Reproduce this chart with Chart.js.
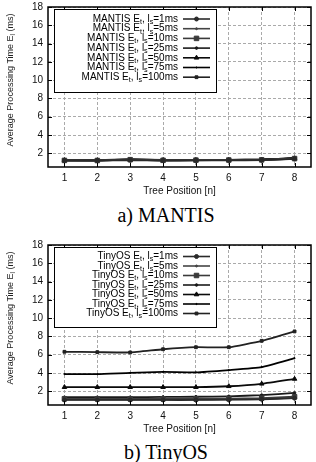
<!DOCTYPE html>
<html><head><meta charset="utf-8">
<script src="https://cdn.jsdelivr.net/npm/chart.js@4/dist/chart.umd.min.js"></script>
<style>
html,body{margin:0;padding:0;background:#fff;width:316px;height:462px;overflow:hidden;position:relative}
.cv{position:absolute;left:0;width:316px}
canvas{display:block}
.cap{position:absolute;left:16px;width:300px;text-align:center;font-family:"Liberation Serif","Times New Roman",serif;font-size:20px;color:#000;line-height:24px}
</style></head><body>
<div class="cv" style="top:-4px;height:206px"><canvas id="c1" width="316" height="206"></canvas></div>
<div class="cap" style="top:203px">a) MANTIS</div>
<div class="cv" style="top:234px;height:206px"><canvas id="c2" width="316" height="206"></canvas></div>
<div class="cap" style="top:440px">b) TinyOS</div>
<script>
// ---- data ----
const positions = ['1','2','3','4','5','6','7','8'];
const sleepIntervals = ['1ms','5ms','10ms','25ms','50ms','75ms','100ms'];
const yTicks = [2,4,6,8,10,12,14,16,18];
const xTitle = 'Tree Position [n]';

const mantis_1ms   = [1.20,1.20,1.25,1.20,1.22,1.23,1.25,1.38];
const mantis_5ms   = [1.22,1.22,1.28,1.22,1.24,1.25,1.27,1.40];
const mantis_10ms  = [1.22,1.21,1.30,1.23,1.25,1.26,1.28,1.42];
const mantis_25ms  = [1.23,1.22,1.29,1.24,1.25,1.26,1.28,1.43];
const mantis_50ms  = [1.24,1.23,1.31,1.25,1.26,1.27,1.30,1.45];
const mantis_75ms  = [1.25,1.24,1.32,1.26,1.27,1.28,1.31,1.46];
const mantis_100ms = [1.26,1.25,1.33,1.27,1.28,1.29,1.32,1.48];

const tinyos_1ms   = [1.05,1.05,1.05,1.05,1.05,1.08,1.12,1.25];
const tinyos_5ms   = [1.10,1.10,1.10,1.10,1.10,1.12,1.18,1.30];
const tinyos_10ms  = [1.18,1.18,1.18,1.18,1.18,1.20,1.25,1.40];
const tinyos_25ms  = [1.35,1.35,1.35,1.38,1.40,1.45,1.58,1.82];
const tinyos_50ms  = [2.45,2.45,2.45,2.45,2.45,2.55,2.82,3.35];
const tinyos_75ms  = [3.88,3.87,4.02,4.12,4.07,4.32,4.65,5.62];
const tinyos_100ms = [6.32,6.28,6.25,6.60,6.82,6.82,7.52,8.55];

// ---- styles ----
const styles = [
  {color:'#2a2a2a', point:'circle',   r:2},
  {color:'#444444', point:'circle',   r:1},
  {color:'#3a3a3a', point:'rect',     r:3.2},
  {color:'#1a1a1a', point:'circle',   r:1.3},
  {color:'#0a0a0a', point:'triangle', r:2.6},
  {color:'#000000', point:'circle',   r:0.6},
  {color:'#222222', point:'rect',     r:2}
];
const FONT = '"Liberation Sans", Arial, sans-serif';

function drawRich(ctx, segs, x, y, align, size){
  const sub = size*0.72;
  let total = 0;
  const widths = segs.map(s=>{ctx.font = (s.sub?sub:size)+'px '+FONT; const w = ctx.measureText(s.t).width; total += w; return w;});
  let cx = align==='right' ? x-total : align==='center' ? x-total/2 : x;
  ctx.textAlign='left'; ctx.textBaseline='middle';
  segs.forEach((s,i)=>{
    ctx.font = (s.sub?sub:size)+'px '+FONT;
    ctx.fillText(s.t, cx, s.sub? y+size*0.3 : y);
    cx += widths[i];
  });
}
function richLabel(label){
  const segs=[]; let buf='';
  for(let i=0;i<label.length;i++){
    if(label[i]==='_' && i+1<label.length){ if(buf){segs.push({t:buf});buf='';} segs.push({t:label[i+1],sub:true}); i++; }
    else buf+=label[i];
  }
  if(buf) segs.push({t:buf});
  return segs;
}
const yTitle = 'Average Processing Time E_l (ms)';

const framePlugin = {
  id:'frame',
  afterDatasetsDraw(chart, args, opts){
    const ctx = chart.ctx, a = chart.chartArea;
    const xs = chart.scales.x, ys = chart.scales.y;
    ctx.save();
    const bx = a.left+6, by = a.top+opts.legendTop, bw = 162, bh = opts.boxH;
    ctx.fillStyle='#fff'; ctx.fillRect(bx,by,bw,bh);
    ctx.strokeStyle='#000'; ctx.lineWidth=1; ctx.setLineDash([]);
    ctx.strokeRect(bx+0.5,by+0.5,bw,bh);
    chart.data.datasets.forEach((ds,i)=>{
      const y = a.top + opts.rowStart + i*opts.rowGap;
      ctx.fillStyle='#000';
      drawRich(ctx, richLabel(ds.label), a.left+130, y, 'right', 10);
      ctx.strokeStyle = ds.borderColor; ctx.lineWidth = 1.6;
      ctx.beginPath(); ctx.moveTo(a.left+135,y); ctx.lineTo(a.left+162,y); ctx.stroke();
      ctx.fillStyle = ds.borderColor; ctx.strokeStyle = ds.borderColor; ctx.lineWidth=1;
      Chart.helpers.drawPoint(ctx,{pointStyle:ds.pointStyle,radius:ds.pointRadius,rotation:0,borderWidth:1},a.left+148.5,y);
    });
    ctx.strokeStyle='#000'; ctx.lineWidth=1;
    ctx.beginPath();
    xs.ticks.forEach((t,i)=>{const px=Math.round(xs.getPixelForTick(i))+0.5;
      ctx.moveTo(px,a.bottom); ctx.lineTo(px,a.bottom-4);
      if(px>bx+bw+1 || px<bx){ctx.moveTo(px,a.top); ctx.lineTo(px,a.top+4);} else {ctx.moveTo(px,a.top); ctx.lineTo(px,a.top+2);} });
    ys.ticks.forEach(t=>{const py=Math.round(ys.getPixelForValue(t.value))+0.5;
      ctx.moveTo(a.left,py); ctx.lineTo(a.left+4,py); ctx.moveTo(a.right,py); ctx.lineTo(a.right-4,py);});
    ctx.stroke();
    ctx.lineWidth=1.5;
    ctx.strokeRect(a.left, a.top, a.right-a.left, a.bottom-a.top);
    ctx.translate(11, (a.top+a.bottom)/2-7);
    ctx.rotate(-Math.PI/2);
    ctx.fillStyle='#222';
    drawRich(ctx, richLabel(yTitle), 0, 0, 'center', 9);
    ctx.restore();
  }
};

function makeChart(id, os, series, legendOpts){
  const datasets = series.map((arr,i)=>({
    label: os+' E_t, l_s='+sleepIntervals[i],
    data: arr,
    borderColor: styles[i].color, backgroundColor: styles[i].color,
    borderWidth: 1.8, pointStyle: styles[i].point, pointRadius: styles[i].r,
    pointBorderWidth: 1, pointBackgroundColor: styles[i].color, pointBorderColor: styles[i].color,
    tension: 0.15, fill:false
  }));
  return new Chart(document.getElementById(id), {
    type:'line',
    data:{labels: positions, datasets},
    options:{
      responsive:false, animation:false, devicePixelRatio:1,
      layout:{padding:{top:6,left:0,right:5,bottom:5}},
      plugins:{legend:{display:false}, tooltip:{enabled:false}, frame:legendOpts},
      scales:{
        x:{type:'category', offset:true,
          grid:{offset:false, color:'#aaaaaa', lineWidth:1, drawTicks:false},
          border:{display:false, dash:[3,2]},
          ticks:{padding:5, color:'#111', font:{family:FONT, size:10}, maxRotation:0},
          title:{display:true, text:xTitle, color:'#111', font:{family:FONT, size:10}, padding:{top:2,bottom:0}},
          afterFit:s=>{s.height=30;}},
        y:{min:0.5, max:18,
          afterBuildTicks:s=>{s.ticks=yTicks.map(v=>({value:v}));},
          grid:{color:'#aaaaaa', lineWidth:1, drawTicks:false},
          border:{display:false, dash:[3,2]},
          ticks:{padding:5, color:'#111', font:{family:FONT, size:10}},
          afterFit:s=>{s.width=48;}}
      }
    },
    plugins:[framePlugin]
  });
}

makeChart('c1','MANTIS',[mantis_1ms,mantis_5ms,mantis_10ms,mantis_25ms,mantis_50ms,mantis_75ms,mantis_100ms],
  {legendTop:2, rowStart:12, rowGap:9.7, boxH:83});
makeChart('c2','TinyOS',[tinyos_1ms,tinyos_5ms,tinyos_10ms,tinyos_25ms,tinyos_50ms,tinyos_75ms,tinyos_100ms],
  {legendTop:2, rowStart:11.5, rowGap:9.5, boxH:80});
</script>
</body></html>
